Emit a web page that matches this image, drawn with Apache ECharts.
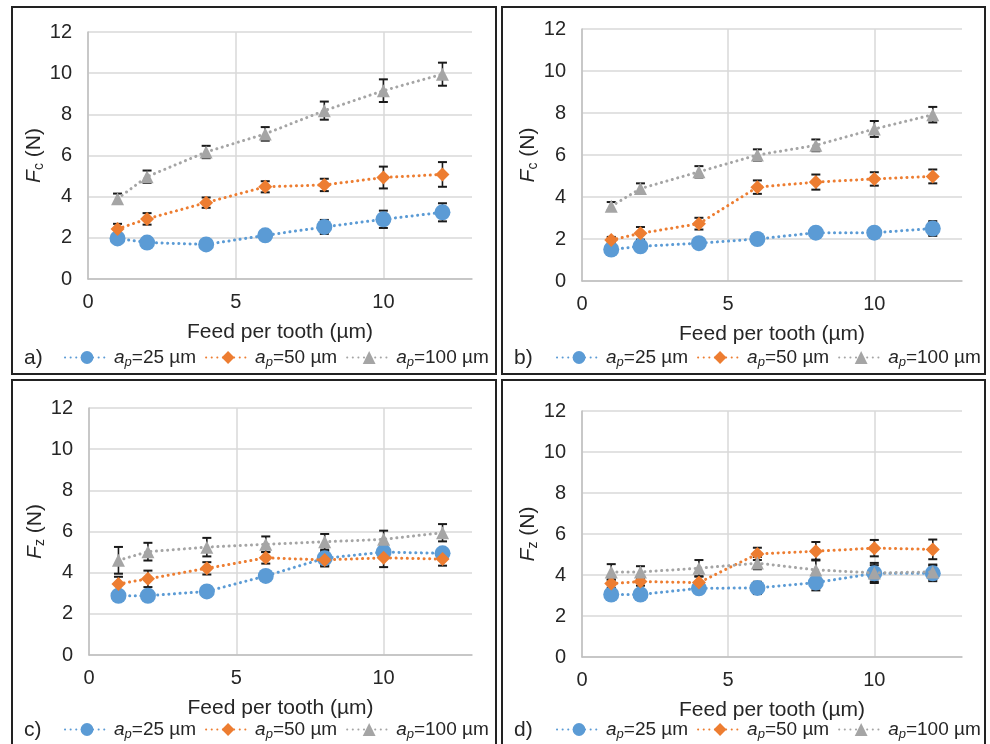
<!DOCTYPE html>
<html><head><meta charset="utf-8">
<script src="https://cdn.jsdelivr.net/npm/echarts@6/dist/echarts.min.js"></script>
<style>html,body{margin:0;padding:0;background:#fff}#c{width:990px;height:744px}</style>
</head><body><div id="c"></div>
<script>
// ---- data ----
const feed = [1, 2, 4, 6, 8, 10, 12];
const xTicks = [0, 5, 10];
const yTicks = [0, 2, 4, 6, 8, 10, 12];
const depthLabels = ['25', '50', '100'];
const panelLetters = ['a)', 'b)', 'c)', 'd)'];
const forceSymbols = ['c', 'c', 'z', 'z'];

const a25 = [1.97, 1.77, 1.68, 2.12, 2.53, 2.90, 3.24];
const a25err = [0.10, 0.10, 0.10, 0.15, 0.34, 0.42, 0.44];
const a50 = [2.43, 2.92, 3.71, 4.48, 4.57, 4.93, 5.08];
const a50err = [0.25, 0.28, 0.25, 0.27, 0.30, 0.53, 0.60];
const a100 = [3.90, 4.97, 6.17, 7.05, 8.18, 9.15, 9.95];
const a100err = [0.25, 0.30, 0.30, 0.33, 0.44, 0.55, 0.56];

const b25 = [1.50, 1.65, 1.80, 2.00, 2.30, 2.30, 2.50];
const b25err = [0.10, 0.10, 0.10, 0.12, 0.20, 0.22, 0.35];
const b50 = [1.95, 2.27, 2.73, 4.47, 4.71, 4.86, 4.98];
const b50err = [0.15, 0.30, 0.28, 0.32, 0.36, 0.32, 0.33];
const b100 = [3.56, 4.40, 5.20, 6.00, 6.46, 7.24, 7.92];
const b100err = [0.20, 0.25, 0.27, 0.27, 0.28, 0.38, 0.37];

const c25 = [2.88, 2.88, 3.09, 3.84, 4.70, 5.00, 4.94];
const c25err = [0.15, 0.15, 0.25, 0.15, 0.35, 0.30, 0.20];
const c50 = [3.45, 3.70, 4.21, 4.72, 4.62, 4.72, 4.66];
const c50err = [0.35, 0.40, 0.30, 0.28, 0.32, 0.45, 0.32];
const c100 = [4.60, 5.02, 5.24, 5.38, 5.50, 5.62, 5.94];
const c100err = [0.65, 0.43, 0.45, 0.38, 0.38, 0.42, 0.42];

const d25 = [3.05, 3.05, 3.35, 3.37, 3.63, 4.08, 4.08];
const d25err = [0.15, 0.15, 0.20, 0.30, 0.38, 0.40, 0.38];
const d50 = [3.58, 3.68, 3.63, 5.03, 5.16, 5.31, 5.25];
const d50err = [0.20, 0.20, 0.30, 0.30, 0.45, 0.40, 0.48];
const d100 = [4.15, 4.15, 4.33, 4.58, 4.25, 4.10, 4.15];
const d100err = [0.38, 0.28, 0.40, 0.30, 0.50, 0.49, 0.36];

const panels = [
  [[a25, a25err], [a50, a50err], [a100, a100err]],
  [[b25, b25err], [b50, b50err], [b100, b100err]],
  [[c25, c25err], [c50, c50err], [c100, c100err]],
  [[d25, d25err], [d50, d50err], [d100, d100err]]
];

// ---- styling / layout ----
const FONT = 'Arial, "Liberation Sans", sans-serif';
const TXT = '#262626';
const colors = ['#5B9BD5', '#ED7D31', '#A5A5A5'];
const symbols = ['circle', 'diamond', 'triangle'];
const symSizes = [16, 14, 13];
const grids = [
  {left: 88, top: 32, width: 384, height: 247},
  {left: 582, top: 29, width: 380, height: 252},
  {left: 89, top: 408, width: 383, height: 247},
  {left: 582, top: 411, width: 380, height: 246}
];
const frames = [
  [12, 7, 484, 367], [502, 7, 483, 367], [12, 380, 484, 370], [502, 380, 483, 370]
];
const legendPos = [[64, 348], [556, 348], [64, 720], [556, 720]];
const letterPos = [[24, 358], [514, 358], [24, 730], [514, 730]];

function errRender(params, api) {
  const x = api.value(0), y = api.value(1), e = api.value(2);
  const t = api.coord([x, y + e]), b = api.coord([x, y - e]);
  const w = 4.5;
  const st = {stroke: '#1a1a1a', lineWidth: 1.6};
  return {type: 'group', children: [
    {type: 'line', shape: {x1: t[0], y1: t[1], x2: b[0], y2: b[1]}, style: st},
    {type: 'line', shape: {x1: t[0] - w, y1: t[1], x2: t[0] + w, y2: t[1]}, style: {stroke: '#1a1a1a', lineWidth: 2}},
    {type: 'line', shape: {x1: b[0] - w, y1: b[1], x2: b[0] + w, y2: b[1]}, style: {stroke: '#1a1a1a', lineWidth: 2}}
  ]};
}

const option = {
  animation: false,
  backgroundColor: '#fff',
  textStyle: {fontFamily: FONT},
  grid: grids.map(g => Object.assign({containLabel: false}, g)),
  xAxis: grids.map((g, i) => ({
    type: 'value', gridIndex: i, min: 0, max: 13, interval: 5,
    name: 'Feed per tooth (µm)', nameLocation: 'middle', nameGap: 43,
    nameTextStyle: {fontSize: 21, color: TXT, fontFamily: FONT},
    axisLine: {show: true, lineStyle: {color: '#bfbfbf', width: 1.5}},
    axisTick: {show: false},
    axisLabel: {fontSize: 20, color: TXT, margin: 13, fontFamily: FONT, showMaxLabel: false,
      formatter: v => (xTicks.indexOf(v) >= 0 ? String(v) : '')},
    splitLine: {show: true, showMaxLine: false, lineStyle: {color: '#d9d9d9', width: 1.5}}
  })),
  yAxis: grids.map((g, i) => ({
    type: 'value', gridIndex: i, min: 0, max: 12, interval: 2,
    name: '{i|F}{s|' + forceSymbols[i] + '}{n| (N)}', nameLocation: 'middle', nameGap: 40, nameRotate: 90,
    nameTextStyle: {color: TXT, rich: {
      i: {fontSize: 21, fontStyle: 'italic', fontFamily: FONT, color: TXT, lineHeight: 24},
      s: {fontSize: 14, fontFamily: FONT, color: TXT, lineHeight: 9, verticalAlign: 'bottom'},
      n: {fontSize: 21, fontFamily: FONT, color: TXT, lineHeight: 24}
    }},
    axisLine: {show: true, lineStyle: {color: '#bfbfbf', width: 1.5}},
    axisTick: {show: false},
    axisLabel: {fontSize: 20, color: TXT, margin: 16, fontFamily: FONT,
      formatter: v => (yTicks.indexOf(v) >= 0 ? String(v) : '')},
    splitLine: {show: true, lineStyle: {color: '#d9d9d9', width: 1.5}}
  })),
  legend: panels.map((p, i) => ({
    left: legendPos[i][0], top: legendPos[i][1], width: 470, orient: 'horizontal',
    itemWidth: 44, itemHeight: 16, itemGap: 9, padding: 0,
    selectedMode: false,
    data: depthLabels.map(d => 'p' + i + '_' + d),
    formatter: name => '{i|a}{s|p}{n|=' + name.split('_')[1] + ' µm}',
    textStyle: {color: TXT, fontFamily: FONT, rich: {
      i: {fontSize: 19, fontStyle: 'italic', fontFamily: FONT, color: TXT, lineHeight: 22},
      s: {fontSize: 13, fontStyle: 'italic', fontFamily: FONT, color: TXT, lineHeight: 8, verticalAlign: 'bottom'},
      n: {fontSize: 19, fontFamily: FONT, color: TXT, lineHeight: 22}
    }}
  })),
  graphic: frames.map(f => ({
    type: 'rect', shape: {x: f[0], y: f[1], width: f[2], height: f[3]},
    style: {fill: 'none', stroke: '#222', lineWidth: 2}, silent: true, z: 0
  })).concat(panelLetters.map((t, i) => ({
    type: 'text', x: letterPos[i][0], y: letterPos[i][1],
    style: {text: t, font: '21px ' + FONT, fill: TXT, verticalAlign: 'middle', align: 'left'}
  }))),
  series: []
};

panels.forEach((p, i) => {
  p.forEach((s, k) => {
    const vals = s[0], errs = s[1];
    option.series.push({
      type: 'custom', name: 'err' + i + k, xAxisIndex: i, yAxisIndex: i,
      renderItem: errRender, z: 1,
      encode: {x: 0, y: 1},
      data: feed.map((x, j) => [x, vals[j], errs[j]])
    });
  });
  p.forEach((s, k) => {
    const vals = s[0];
    option.series.push({
      type: 'line', name: 'p' + i + '_' + depthLabels[k], xAxisIndex: i, yAxisIndex: i, z: 3 + k,
      symbol: symbols[k], symbolSize: symSizes[k],
      itemStyle: {color: colors[k]},
      lineStyle: {color: colors[k], width: 3, type: [0.1, 5.5], cap: 'round'},
      data: feed.map((x, j) => [x, vals[j]])
    });
  });
});

const chart = echarts.init(document.getElementById('c'), null, {renderer: 'canvas'});
chart.setOption(option);
</script>
</body></html>
